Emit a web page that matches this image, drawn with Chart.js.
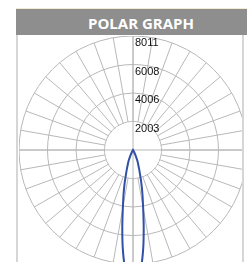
<!DOCTYPE html>
<html>
<head>
<meta charset="utf-8">
<script src="https://cdn.jsdelivr.net/npm/chart.js@4"></script>
<style>
html, body { margin: 0; padding: 0; width: 247px; height: 262px; overflow: hidden; background: #fff; }
#topline { position: absolute; left: 16px; top: 8px; width: 231px; height: 1px; background: #f3ecd2; }
#head { position: absolute; left: 16px; top: 9px; width: 250px; height: 26px; background: #8e8e8e;
  color: #fff; font: bold 15px "Open Sans"; text-align: center; line-height: 28px; }
#panel { position: absolute; left: 16px; top: 35px; width: 224px; height: 240px;
  border-left: 2px solid #d6d6d6; border-right: 2px solid #d6d6d6; overflow: hidden; }
#wrap { position: absolute; left: 1px; top: 1px; width: 228px; height: 228px; }
</style>
</head>
<body>
<div id="topline"></div>
<div id="head">POLAR GRAPH</div>
<div id="panel"><div id="wrap"><canvas id="polar"></canvas></div></div>
<script>
// setup
const tickLabels = ['0', '2003', '4006', '6008', '8011'];
const maxValue = 8011;
// angle in degrees from straight down, intensity in cd
const angles    = [-40, -32, -28, -25, -22, -20, -18, -16, -14, -12, -10, -8, -6, -4, -2, 0, 2, 4, 6, 8, 10, 12, 14, 16, 18, 20, 22, 25, 28, 32, 40];
const intensity = [0, 40, 180, 450, 820, 1060, 1380, 1800, 2450, 3200, 4100, 5400, 6900, 8200, 8800, 9000, 8800, 8200, 6900, 5400, 4100, 3200, 2450, 1800, 1380, 1060, 820, 450, 180, 40, 0];

const gridColor = '#b8b8b8';

// radar needs one slot per degree, unread angles stay null
const labels = [];
const values = [];
for (let i = 0; i < 360; i++) { labels.push(i); values.push(null); }
angles.forEach((a, k) => { values[(a + 360) % 360] = intensity[k]; });

const polarDecor = {
  id: 'polarDecor',
  beforeDatasetsDraw(chart) {
    const s = chart.scales.r, ctx = chart.ctx;
    const r1 = s.getDistanceFromCenterForValue(s.ticks[1].value);
    ctx.save();
    ctx.fillStyle = '#fff';
    ctx.beginPath();
    ctx.arc(s.xCenter, s.yCenter, r1 - 0.6, 0, Math.PI * 2);
    ctx.fill();
    ctx.strokeStyle = gridColor;
    ctx.lineWidth = 1;
    ctx.beginPath();
    ctx.moveTo(0, s.yCenter); ctx.lineTo(chart.width, s.yCenter);
    ctx.moveTo(s.xCenter, 0); ctx.lineTo(s.xCenter, chart.height);
    ctx.stroke();
    ctx.restore();
  },
  afterDatasetsDraw(chart) {
    const s = chart.scales.r, ctx = chart.ctx;
    ctx.save();
    ctx.fillStyle = '#111';
    ctx.font = '11px "Liberation Sans"';
    ctx.textAlign = 'left';
    ctx.textBaseline = 'middle';
    s.ticks.forEach((t, i) => {
      if (i === 0) return;
      const d = s.getDistanceFromCenterForValue(t.value);
      ctx.fillText(tickLabels[i], s.xCenter + 2, s.yCenter - d + 7);
    });
    ctx.restore();
  }
};

// config
const config = {
  type: 'radar',
  data: {
    labels: labels,
    datasets: [{
      data: values,
      borderColor: '#3150a6',
      borderWidth: 2,
      pointRadius: 0,
      fill: false,
      spanGaps: true,
      tension: 0.25
    }]
  },
  options: {
    responsive: true,
    maintainAspectRatio: false,
    animation: false,
    layout: { padding: 0 },
    plugins: { legend: { display: false }, tooltip: { enabled: false } },
    scales: {
      r: {
        min: 0,
        max: maxValue,
        startAngle: 180,
        ticks: { stepSize: maxValue / 4, display: false },
        pointLabels: { display: false },
        grid: { circular: true, color: gridColor, lineWidth: 1 },
        angleLines: {
          lineWidth: 1,
          color: ctx => (ctx.index % 10 === 0 ? gridColor : 'rgba(0,0,0,0)')
        }
      }
    }
  },
  plugins: [polarDecor]
};

// render init block
const myChart = new Chart(document.getElementById('polar'), config);
</script>
</body>
</html>
